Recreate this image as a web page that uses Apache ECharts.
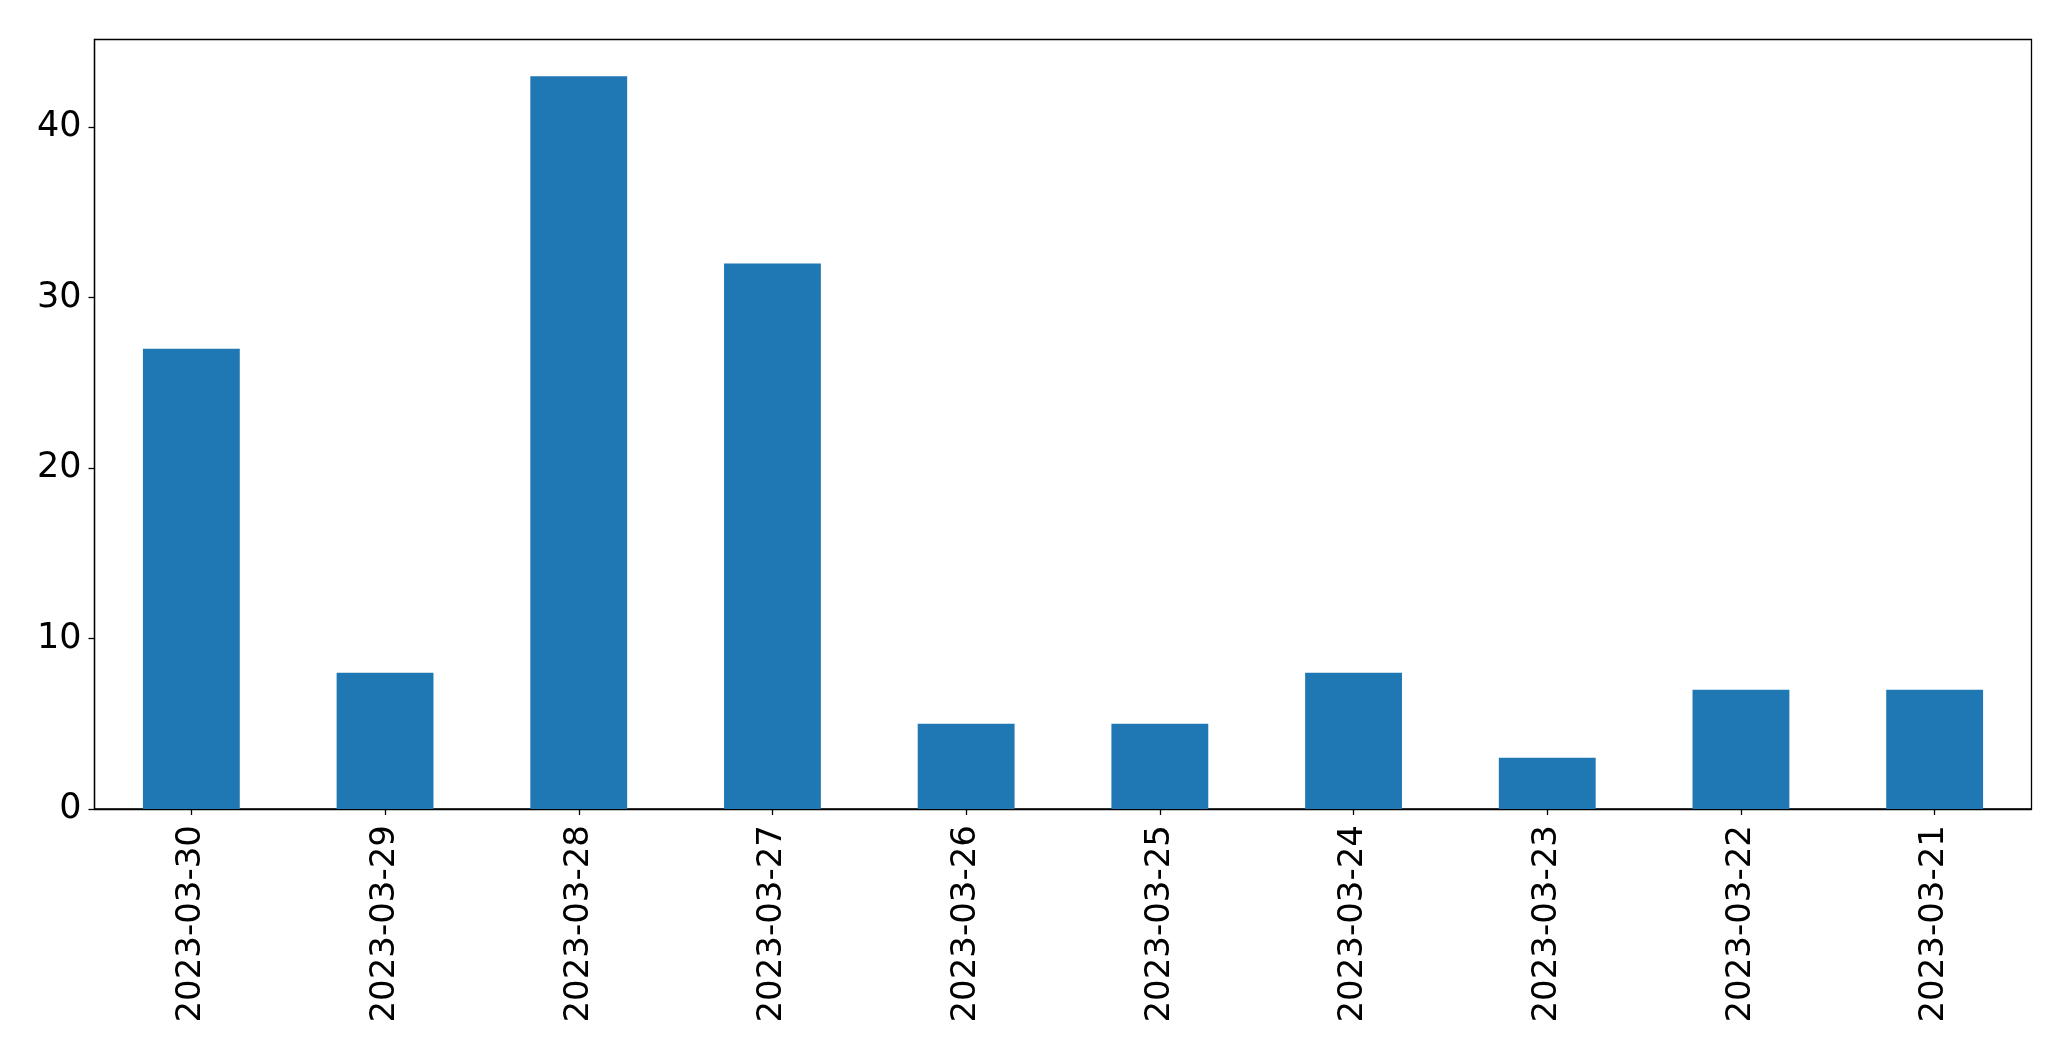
<!DOCTYPE html>
<html>
<head>
<meta charset="utf-8">
<script src="https://cdn.jsdelivr.net/npm/echarts@6/dist/echarts.min.js"></script>
<style>
html,body{margin:0;padding:0;background:#fff;}
#c{width:2071px;height:1061px;}
</style>
</head>
<body>
<div id="c"></div>
<script>
const categories = ['2023-03-30','2023-03-29','2023-03-28','2023-03-27','2023-03-26','2023-03-25','2023-03-24','2023-03-23','2023-03-22','2023-03-21'];
const values = [27, 8, 43, 32, 5, 5, 8, 3, 7, 7];
const yTicks = [0, 10, 20, 30, 40];

const yMax = Math.max(...values) * 1.05;
const chart = echarts.init(document.getElementById('c'), null, {renderer: 'canvas'});
const font = 'DejaVu Sans';
chart.setOption({
  animation: false,
  backgroundColor: '#fff',
  grid: {
    left: 94.5, right: 39.5, top: 39.5, bottom: 252,
    show: true, borderColor: '#000', borderWidth: 1.3, backgroundColor: 'transparent'
  },
  xAxis: {
    type: 'category',
    data: categories,
    boundaryGap: true,
    axisLine: {show: true, lineStyle: {color: '#000', width: 1.3}},
    axisTick: {show: true, alignWithLabel: true, length: 6, lineStyle: {color: '#000', width: 1.3}},
    axisLabel: {rotate: 90, margin: 16, color: '#000', fontFamily: font, fontSize: 34, interval: 0},
    splitLine: {show: false}
  },
  yAxis: {
    type: 'value',
    min: 0,
    max: yMax,
    interval: 10,
    axisLine: {show: true, lineStyle: {color: '#000', width: 1.3}},
    axisTick: {show: true, length: 6, lineStyle: {color: '#000', width: 1.3}, customValues: yTicks},
    axisLabel: {margin: 13, color: '#000', fontFamily: font, fontSize: 35, customValues: yTicks},
    splitLine: {show: false}
  },
  series: [{
    type: 'bar',
    data: values,
    barWidth: '50%',
    itemStyle: {color: '#1f77b4'}
  }]
});
</script>
</body>
</html>
